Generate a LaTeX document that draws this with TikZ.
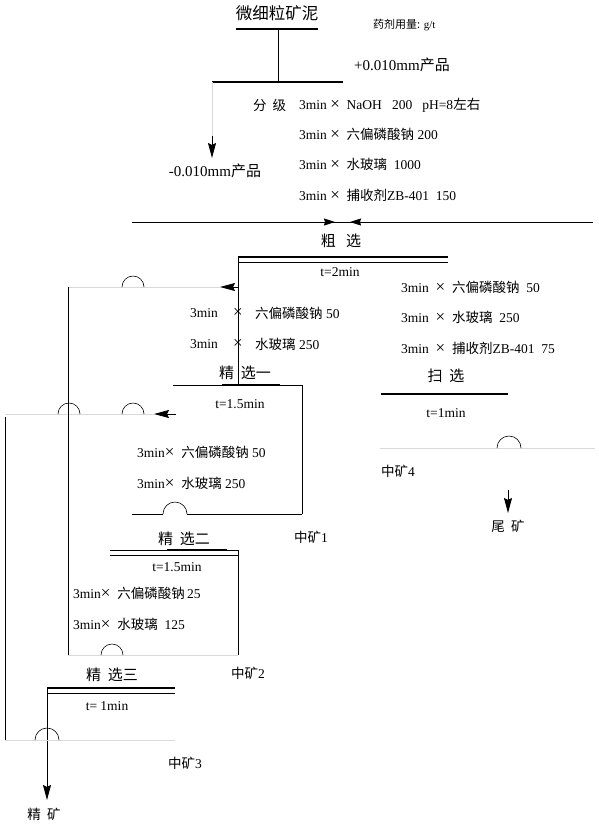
\documentclass[tikz,border=0pt]{standalone}
\usepackage{fontspec}
\setmainfont{Liberation Serif}
\newfontfamily\cjk{Noto Sans CJK SC}
\usetikzlibrary{arrows.meta,positioning,calc}
\newcommand\zh[1]{{\cjk #1}}
\newcommand\X{{\fontsize{17}{15}\selectfont ×}}

\begin{document}
\begin{tikzpicture}[
  x=1pt, y=-1pt,
  >={Stealth[length=15pt,width=8pt,inset=2pt]},
  every node/.style={text=black, inner sep=0pt, font=\fontsize{13.5}{15}\selectfont},
  title/.style={font=\fontsize{15}{17}\selectfont},
  big/.style={font=\fontsize{16.5}{18}\selectfont},
  small/.style={font=\fontsize{11}{13}\selectfont},
  line/.style={draw=black, line width=0.7pt},
  bar/.style={draw=black, line width=2.6pt},
  faint/.style={draw=black!15, line width=0.6pt},
  hump/.style={draw=black, line width=0.6pt},
  flow/.style={->, draw=black, line width=0.8pt},
  tip/.style={-{Stealth[length=11pt,width=7pt,inset=1pt]}, draw=black, line width=1pt}
]
\useasboundingbox (0,0) rectangle (599,831);

% ---- feed and classification ----
\node[big] (feed) at (277,13) {\zh{微细粒矿泥}};
\node[small, anchor=west] (dose) at (373,25) {\zh{药剂用量:} g/t};
\coordinate (feedL) at (236,29);
\coordinate (feedR) at (318,29);
\coordinate (feedM) at (278,29);
\draw[bar] (feedL) -- (feedR);
\coordinate (clsL) at (212,82);
\coordinate (clsR) at (343,82);
\coordinate (clsM) at (278,82);
\draw[bar] (clsL) -- (clsR);
\draw[line] (feedM) -- (clsM);
\node[title] (coarse) at (402,65) {+0.010mm\zh{产品}};

\node[anchor=west] (cls) at (253,105) {\zh{分\ \ 级}};
\node[anchor=west] (c1) at (299,105) {3min\ \X\ \ NaOH\ \ \ 200\ \ \ pH=8\zh{左右}};
\node[anchor=west] (c2) at (299,134) {3min\ \X\ \ \zh{六偏磷酸钠}\ 200};
\node[anchor=west] (c3) at (299,164) {3min\ \X\ \ \zh{水玻璃}\ \ 1000};
\node[anchor=west] (c4) at (299,195) {3min\ \X\ \ \zh{捕收剂}ZB-401\ \ 150};

\coordinate (fineA) at (212,136);
\coordinate (fineB) at (212,158);
\draw[faint] (clsL) -- (fineA);
\draw[flow] (fineA) -- (fineB);
\node[title] (fine) at (215,171) {-0.010mm\zh{产品}};

% ---- feed line to rougher ----
\coordinate (retL) at (132,222);
\coordinate (retR) at (593,222);
\draw[line] (retL) -- (retR);
\draw[tip] (320,222) -- (335,222);
\draw[tip] (363,222) -- (350,222);

% ---- rougher ----
\node[title] (rough) at (341,241) {\zh{粗\ \ \ 选}};
\coordinate (roL) at (238,257);
\coordinate (roR) at (448,257);
\draw[bar] (roL) -- (roR);
\draw[line] (238,262) -- (448,262);
\node (rot) at (340,272) {t=2min};
\coordinate (roB) at (238,385);
\draw[line] (roL) -- (roB);
\coordinate (roA) at (238,287);
\coordinate (roC) at (220,287);
\draw[flow] (roA) -- (roC);
\coordinate (loopTop) at (68,287);
\draw[faint] (roC) -- (loopTop);

\node[anchor=west] (r1) at (190,313) {3min};
\node (r1x) at (238,313) {\X};
\node[anchor=west] (r1c) at (255,313) {\zh{六偏磷酸钠}\ 50};
\node[anchor=west] (r2) at (190,344) {3min};
\node (r2x) at (238,344) {\X};
\node[anchor=west] (r2c) at (255,344) {\zh{水玻璃}\ 250};

\node[anchor=west] (s1) at (401,287) {3min\ \ \X\ \ \zh{六偏磷酸钠}\ \ 50};
\node[anchor=west] (s2) at (401,317) {3min\ \ \X\ \ \zh{水玻璃}\ \ 250};
\node[anchor=west] (s3) at (401,348) {3min\ \ \X\ \ \zh{捕收剂}ZB-401\ \ 75};

% ---- scavenger ----
\node[title] (scav) at (446,376) {\zh{扫\ \ 选}};
\coordinate (scL) at (381,394);
\coordinate (scR) at (508,394);
\draw[bar] (scL) -- (scR);
\node (sct) at (446,413) {t=1min};
\draw[faint] (380,448) -- (595,448);
\node (mid4) at (398,471) {\zh{中矿}4};
\coordinate (tailA) at (508,490);
\coordinate (tailB) at (508,513);
\draw[flow] (tailA) -- (tailB);
\node (tail) at (508,526) {\zh{尾\ \ 矿}};

% ---- cleaner 1 ----
\node[title] (cl1) at (245,373) {\zh{精\ \ 选一}};
\coordinate (c1L) at (173,385);
\coordinate (c1R) at (302,385);
\draw[line] (c1L) -- (c1R);
\draw[bar] (222,385) -- (280,385);
\node (c1t) at (240,404) {t=1.5min};
\coordinate (c1A) at (176,414);
\coordinate (c1B) at (154,414);
\draw[flow] (c1A) -- (c1B);
\draw[faint] (c1B) -- (5,414);
\node[anchor=west] (p1) at (137,452) {3min\X\ \ \zh{六偏磷酸钠}\ 50};
\node[anchor=west] (p2) at (137,483) {3min\X\ \ \zh{水玻璃}\ 250};
\coordinate (c1D) at (302,514);
\draw[line] (c1R) -- (c1D);
\draw[line] (c1D) -- (187,514);
\draw[line] (163,514) -- (132,514);
\node (mid1) at (311,537) {\zh{中矿}1};

% ---- cleaner 2 ----
\node[title] (cl2) at (184,539) {\zh{精\ \ 选二}};
\coordinate (c2L) at (110,550);
\coordinate (c2R) at (238,550);
\draw[line] (c2L) -- (c2R);
\draw[bar] (167,550) -- (227,550);
\draw[line] (110,555) -- (238,555);
\coordinate (c2D) at (238,655);
\draw[line] (c2R) -- (c2D);
\node (c2t) at (177,567) {t=1.5min};
\node[anchor=west] (q1) at (73,593) {3min\X\ \ \zh{六偏磷酸钠}\,25};
\node[anchor=west] (q2) at (73,624) {3min\X\ \ \zh{水玻璃}\ \ 125};
\draw[faint] (loopTop |- c2D) -- (c2D);
\draw[line] (loopTop) -- (loopTop |- c2D);
\node (mid2) at (248,673) {\zh{中矿}2};

% ---- cleaner 3 ----
\node[title] (cl3) at (112,675) {\zh{精\ \ 选三}};
\coordinate (c3L) at (47,688);
\coordinate (c3R) at (175,688);
\draw[bar] (c3L) -- (c3R);
\draw[line] (47,693) -- (175,693);
\node (c3t) at (107,706) {t=\ 1min};
\coordinate (conc) at (47,800);
\draw[flow] (c3L) -- (conc);
\draw[faint] (5,740) -- (175,740);
\draw[line] (5,417) -- (5,740);
\node (mid3) at (185,763) {\zh{中矿}3};
\node (prod) at (44,814) {\zh{精\ \ 矿}};

% ---- line jumps ----
\foreach \hx/\hy/\hr in {133/287/11, 69/414/11, 133/414/11, 175/514/12,
                         112/655/11, 47/740/12, 509/448/12}
  \draw[hump] (\hx-\hr,\hy) arc[start angle=180, end angle=360, radius=\hr];

\end{tikzpicture}
\end{document}
